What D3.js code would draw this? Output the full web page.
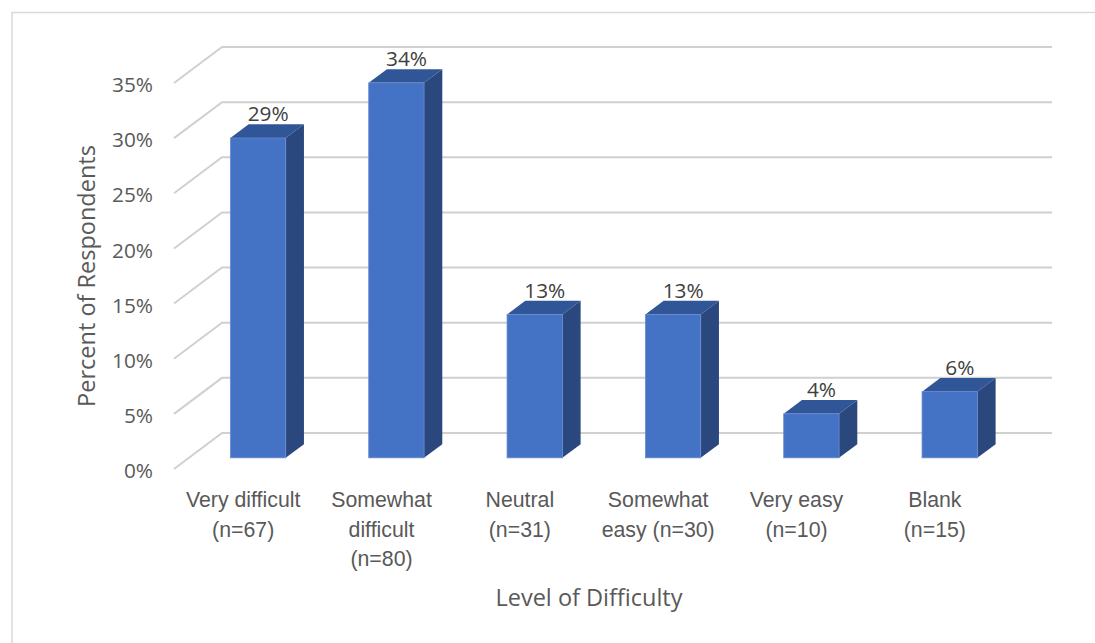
<!DOCTYPE html>
<html>
<head>
<meta charset="utf-8">
<script src="https://cdn.jsdelivr.net/npm/d3@7"></script>
<style>
  html, body { margin: 0; padding: 0; background: #fff; }
  svg { display: block; font-family: "Open Sans", "Noto Sans", sans-serif; }
</style>
</head>
<body>
<svg id="chart" width="1095" height="643"></svg>
<script>
// Survey responses by perceived difficulty
const categories = ["Very difficult", "Somewhat difficult", "Neutral", "Somewhat easy", "Very easy", "Blank"];
const counts = [67, 80, 31, 30, 10, 15];
const percents = [29, 34, 13, 13, 4, 6];
const categoryLabels = [
  ["Very difficult", "(n=67)"],
  ["Somewhat", "difficult", "(n=80)"],
  ["Neutral", "(n=31)"],
  ["Somewhat", "easy (n=30)"],
  ["Very easy", "(n=10)"],
  ["Blank", "(n=15)"]
];
const yTicks = [0, 5, 10, 15, 20, 25, 30, 35];

const svg = d3.select("#chart");

// Chart frame
svg.append("rect")
  .attr("x", 12).attr("y", 12.5)
  .attr("width", 1200).attr("height", 700)
  .attr("fill", "#fff")
  .attr("stroke", "#d9d9d9").attr("stroke-width", 1.5);

// 3D projection: back wall plane, with depth shifting left and down
const depthDX = -48, depthDY = 36;
const off = f => [depthDX * f, depthDY * f];

const x = d3.scaleBand().domain(categories).range([222, 1052]).padding(0);
const y = d3.scaleLinear().domain([0, 35]).range([433, 47]);

// Gridlines: side wall diagonal + back wall horizontal
const grid = svg.append("g");
yTicks.forEach(v => {
  const [fx, fy] = off(1);
  grid.append("path")
    .attr("d", `M${x.range()[0] + fx},${y(v) + fy}L${x.range()[0]},${y(v)}L${x.range()[1]},${y(v)}`)
    .attr("fill", "none")
    .attr("stroke", "#d0d0d0")
    .attr("stroke-width", 2);
});

// Y axis on the front edge
const yFront = y.copy().range(y.range().map(r => r + depthDY));
svg.append("g")
  .attr("transform", `translate(${x.range()[0] + depthDX},2)`)
  .call(d3.axisLeft(yFront).tickValues(yTicks).tickFormat(d => d + "%").tickSize(0).tickPadding(21))
  .call(g => g.select(".domain").remove())
  .call(g => g.selectAll("text")
    .attr("fill", "#595959")
    .style("font-size", "20.8px")
    .style("font-family", "'Open Sans', sans-serif"));

// Bars as 3D boxes
const fFront = 0.69, fBack = 0.31;
const barW = x.step() * 0.4;
const bars = svg.append("g");
categories.forEach((c, i) => {
  const v = percents[i];
  const cx = x(c) + x.bandwidth() / 2;
  const [ax, ay] = off(fFront);
  const [bx, by] = off(fBack);
  const L = cx - barW / 2, R = cx + barW / 2;
  const y0 = y(0), y1 = y(v);
  const g = bars.append("g");
  // top face
  g.append("path")
    .attr("d", `M${L + ax},${y1 + ay}L${L + bx},${y1 + by}L${R + bx},${y1 + by}L${R + ax},${y1 + ay}Z`)
    .attr("fill", "#315698");
  // right side face
  g.append("path")
    .attr("d", `M${R + ax},${y1 + ay}L${R + bx},${y1 + by}L${R + bx},${y0 + by}L${R + ax},${y0 + ay}Z`)
    .attr("fill", "#2a487e");
  // front face
  g.append("rect")
    .attr("x", L + ax).attr("y", y1 + ay)
    .attr("width", barW).attr("height", y0 - y1)
    .attr("fill", "#4472c4")
    .attr("stroke", "#6a8ccf").attr("stroke-width", 0.8);
  // value label
  g.append("text")
    .attr("x", cx + (ax + bx) / 2 + 1)
    .attr("y", y1 + by - 3)
    .attr("text-anchor", "middle")
    .attr("fill", "#404040")
    .style("font-size", "20.8px")
    .text(v + "%");
});

// Category labels along the front edge
const xFront = x.copy().range(x.range().map(r => r + depthDX));
const xAxis = svg.append("g")
  .attr("transform", "translate(0,507)")
  .call(d3.axisBottom(xFront).tickSize(0).tickPadding(0).tickFormat(""))
  .call(g => g.select(".domain").remove());
xAxis.selectAll(".tick").each(function(d, i) {
  const t = d3.select(this).append("text")
    .attr("text-anchor", "middle")
    .attr("fill", "#595959")
    .style("font-size", "21.3px");
  categoryLabels[i].forEach((line, k) => {
    t.append("tspan").attr("x", 0).attr("y", k * 29.5).text(line);
  });
});

// Axis titles
svg.append("text")
  .attr("x", 589).attr("y", 606)
  .attr("text-anchor", "middle")
  .attr("fill", "#595959")
  .style("font-size", "23.5px")
  .text("Level of Difficulty");

svg.append("text")
  .attr("transform", "translate(95,276) rotate(-90)")
  .attr("text-anchor", "middle")
  .attr("fill", "#595959")
  .style("font-size", "23.5px")
  .text("Percent of Respondents");
</script>
</body>
</html>
